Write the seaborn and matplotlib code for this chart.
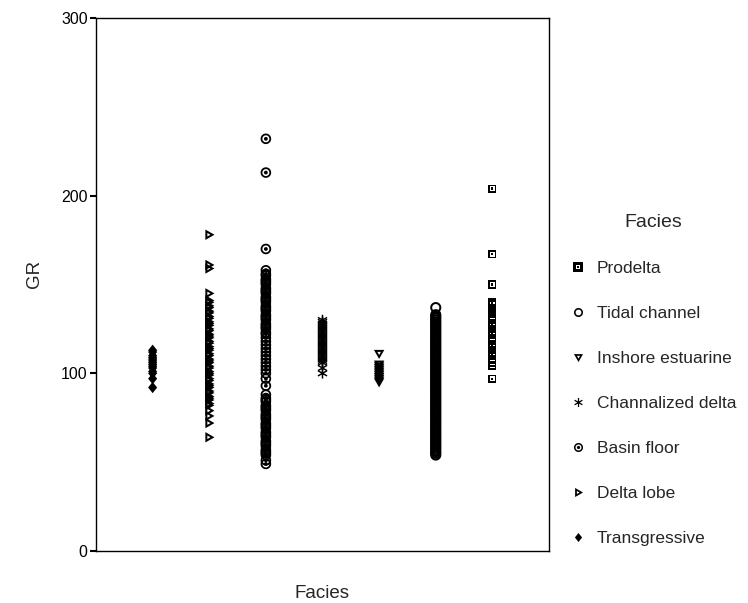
import numpy as np
import pandas as pd
import matplotlib
matplotlib.use("Agg")
import matplotlib.pyplot as plt
from matplotlib.path import Path
from matplotlib.lines import Line2D
import seaborn as sns

# GR readings per facies (left to right along the x axis)
facies_order = ["Transgressive", "Delta lobe", "Basin floor", "Channalized delta",
                "Inshore estuarine", "Tidal channel", "Prodelta"]

gr_transgressive = [113, 112, 110, 109, 108, 107, 106, 105, 104, 103, 101, 100, 97, 92]

gr_delta_lobe = [178, 161, 159, 145, 141, 140, 138, 137, 135, 134, 132, 131, 129, 128,
                 127, 125, 124, 122, 121, 120, 118, 117, 115, 114, 113, 111, 110, 108,
                 107, 106, 104, 103, 101, 100, 99, 97, 96, 94, 93, 92, 90, 89, 87, 86,
                 85, 83, 82, 79, 76, 72, 64]

gr_basin_floor = [232, 213, 170, 158, 156, 155, 153, 152, 151, 150, 148, 147, 146, 145,
                  143, 142, 141, 140, 138, 137, 136, 135, 133, 132, 131, 130, 128, 127,
                  126, 125, 123, 122, 120, 118, 116, 114, 112, 110, 108, 106, 104, 102,
                  100, 97, 93, 88, 86, 85, 84, 82, 81, 80, 79, 77, 76, 75, 74, 72, 71,
                  70, 69, 67, 66, 65, 64, 62, 61, 60, 59, 57, 56, 55, 54, 51, 49]

gr_channalized_delta = [130, 129, 128, 127, 126, 125, 124, 123, 122, 121, 120, 119, 118,
                        117, 116, 115, 114, 113, 112, 111, 110, 109, 108, 107, 106, 103, 100]

gr_inshore_estuarine = [111, 105, 104, 103, 102, 101, 100, 99, 98, 97, 96, 95]

gr_tidal_channel = [137, 133, 132, 131, 130, 129, 128, 127, 126, 125, 124, 123, 122, 121,
                    120, 119, 118, 117, 116, 115, 114, 113, 112, 111, 110, 109, 108, 107,
                    106, 105, 104, 103, 102, 101, 100, 99, 98, 97, 96, 95, 94, 93, 92, 91,
                    90, 89, 88, 87, 86, 85, 84, 83, 82, 81, 80, 79, 78, 77, 76, 75, 74,
                    73, 72, 71, 70, 69, 68, 67, 66, 65, 64, 63, 62, 61, 60, 59, 58, 57,
                    56, 55, 54]

gr_prodelta = [204, 167, 150, 140, 139, 137, 135, 134, 132, 130, 128, 127, 125, 123, 122,
               120, 118, 116, 115, 113, 111, 110, 108, 106, 104, 97]

y_ticks = [0, 100, 200, 300]

series = [gr_transgressive, gr_delta_lobe, gr_basin_floor, gr_channalized_delta,
          gr_inshore_estuarine, gr_tidal_channel, gr_prodelta]
df = pd.concat(
    [pd.DataFrame({"Facies": name, "GR": vals}) for name, vals in zip(facies_order, series)],
    ignore_index=True,
)


# ---- marker shapes (filled compound paths, holes wound the other way) ----
def _loop(pts, cw=False):
    pts = np.asarray(pts, dtype=float)
    area = 0.5 * np.sum(pts[:, 0] * np.roll(pts[:, 1], -1) - np.roll(pts[:, 0], -1) * pts[:, 1])
    if (area > 0) == cw:
        pts = pts[::-1]
    return pts


def _compound(*loops):
    verts, codes = [], []
    for pts in loops:
        verts.extend(pts.tolist())
        verts.append(pts[0].tolist())
        codes.extend([Path.MOVETO] + [Path.LINETO] * (len(pts) - 1) + [Path.CLOSEPOLY])
    return Path(verts, codes)


def _circle(r, cw=False, n=48):
    t = np.linspace(0, 2 * np.pi, n, endpoint=False)
    return _loop(np.column_stack([r * np.cos(t), r * np.sin(t)]), cw)


def _square(h, cw=False):
    return _loop([(-h, -h), (h, -h), (h, h), (-h, h)], cw)


def _triangle(pts, cw=False, scale=1.0):
    pts = np.asarray(pts, dtype=float)
    c = pts.mean(axis=0)
    return _loop(c + (pts - c) * scale, cw)


def _bar(angle, length=1.0, width=0.28):
    a = np.deg2rad(angle)
    d = np.array([np.cos(a), np.sin(a)])
    n = np.array([-np.sin(a), np.cos(a)])
    pts = [-d * length - n * width / 2, d * length - n * width / 2,
           d * length + n * width / 2, -d * length + n * width / 2]
    return _loop(pts)


tri_down = [(-1.0, 0.75), (1.0, 0.75), (0.0, -1.0)]
tri_right = [(-0.75, 1.0), (-0.75, -1.0), (1.0, 0.0)]

marker_map = {
    "Prodelta": _compound(_square(1.0), _square(0.55, cw=True), _square(0.27)),
    "Tidal channel": _compound(_circle(1.0), _circle(0.64, cw=True)),
    "Inshore estuarine": _compound(_triangle(tri_down), _triangle(tri_down, cw=True, scale=0.34)),
    "Channalized delta": _compound(_bar(90), _bar(30), _bar(150)),
    "Basin floor": _compound(_circle(1.0), _circle(0.66, cw=True), _circle(0.36)),
    "Delta lobe": _compound(_triangle(tri_right), _triangle(tri_right, cw=True, scale=0.34)),
    "Transgressive": _compound(_loop([(0, 1.0), (-0.8, 0), (0, -1.0), (0.8, 0)])),
}

size_map = {
    "Prodelta": 34,
    "Tidal channel": 64,
    "Inshore estuarine": 56,
    "Channalized delta": 58,
    "Basin floor": 58,
    "Delta lobe": 56,
    "Transgressive": 66,
}

# ---- figure ----
sns.set_style("white")
plt.rcParams["font.family"] = ["Liberation Sans", "DejaVu Sans"]

fig = plt.figure(figsize=(7.48, 6.03), dpi=100)
ax = fig.add_axes([96 / 748, 1 - 551 / 603, (549 - 96) / 748, (551 - 18) / 603])

sns.scatterplot(
    data=df, x="Facies", y="GR",
    style="Facies", markers=marker_map,
    size="Facies", sizes=size_map,
    color="black", linewidth=0, edgecolor="none",
    legend=False, ax=ax,
)

ax.set_xlim(-1, 7)
ax.set_ylim(0, 300)
ax.set_xticks([])
ax.set_yticks(y_ticks)
ax.tick_params(axis="y", direction="out", length=4, width=1.5, labelsize=11.5,
               left=True, pad=2, colors="black")
for sp in ax.spines.values():
    sp.set_visible(True)
    sp.set_color("black")
    sp.set_linewidth(1.0)

ax.set_ylabel("GR", fontsize=13.5)
ax.yaxis.set_label_coords(-0.117, 0.52)
ax.set_xlabel("Facies", fontsize=13.5)
ax.xaxis.set_label_coords(0.5, -0.064)

handles = [
    Line2D([], [], linestyle="", marker=marker_map[f], markersize=6.5,
           markerfacecolor="black", markeredgewidth=0, color="black", label=f)
    for f in facies_order[::-1]
]
leg = fig.legend(
    handles=handles, title="Facies", loc="upper left",
    bbox_to_anchor=(569.5 / 748, 1 - 214 / 603),
    frameon=False, fontsize=12.5, title_fontsize=14,
    handlelength=1.0, handletextpad=0.59, labelspacing=1.72,
    borderpad=0, borderaxespad=0,
)

fig.savefig("out.png", dpi=100, facecolor="white")
